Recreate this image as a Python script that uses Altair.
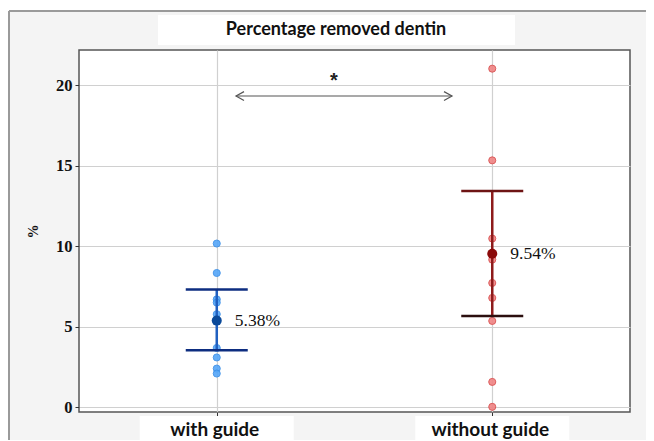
import altair as alt
import pandas as pd

groups = ["with guide", "without guide"]
with_guide = [10.17, 8.34, 6.7, 6.5, 5.78, 3.68, 3.09, 2.40, 2.09]
without_guide = [21.04, 15.34, 10.48, 9.17, 7.72, 6.79, 5.36, 1.57, 0.02]
means = [5.38, 9.54]
lower = [3.54, 5.67]
upper = [7.31, 13.43]
mean_labels = ["5.38%", "9.54%"]
arrow_y = 19.34
star_y = 20.3

# styles
pt_fill = ["#55a6f8", "#f08484"]
pt_stroke = ["#3a8fe8", "#d94c4c"]
bar_col = ["#2060c0", "#8e1b1b"]
cap_hi_col = ["#0d2d80", "#6e1414"]
cap_lo_col = ["#0d2d80", "#2b0f0f"]
mean_col = ["#0b4a9a", "#8b0a0a"]

SERIF = "Liberation Serif"
W, H = 551, 362

pts = pd.DataFrame({
    "group": [groups[0]] * len(with_guide) + [groups[1]] * len(without_guide),
    "value": with_guide + without_guide,
    "fill": [pt_fill[0]] * len(with_guide) + [pt_fill[1]] * len(without_guide),
    "stroke": [pt_stroke[0]] * len(with_guide) + [pt_stroke[1]] * len(without_guide),
})
summ = pd.DataFrame({"group": groups, "mean": means, "lo": lower, "hi": upper, "label": mean_labels,
                     "bar": bar_col, "chi": cap_hi_col, "clo": cap_lo_col, "mc": mean_col})
grp = pd.DataFrame({"group": groups})

xscale = alt.Scale(type="point", padding=0.5, domain=groups)
yscale = alt.Scale(domain=[-0.3, 22.2], nice=False, zero=False)

x_enc = alt.X("group:N", scale=xscale, sort=groups,
              axis=alt.Axis(labels=False, title=None, ticks=True, tickColor="#333", tickSize=4,
                            domain=False, grid=True, gridColor="#d0d0d0", gridWidth=1.2))
y_axis = alt.Axis(values=[0, 5, 10, 15, 20], title="%", grid=True, gridColor="#d0d0d0", gridWidth=1.2,
                  domain=False, tickColor="#333", tickSize=4, labelPadding=3,
                  labelFont=SERIF, labelFontWeight="bold", labelFontSize=16.5, labelColor="#111",
                  titleFont=SERIF, titleFontWeight="bold", titleFontSize=14, titleColor="#111",
                  titleX=-46, titleY=H / 2, titleAngle=-90, titleAlign="center", titleBaseline="middle")

points = alt.Chart(pts).mark_point(filled=True, size=50, strokeWidth=1, opacity=0.9).encode(
    x=x_enc, y=alt.Y("value:Q", scale=yscale, axis=y_axis),
    fill=alt.Fill("fill:N", scale=None), stroke=alt.Stroke("stroke:N", scale=None))

vline = alt.Chart(summ).mark_rule(strokeWidth=2.5, opacity=1).encode(
    x=alt.X("group:N", scale=xscale), y=alt.Y("lo:Q", scale=yscale), y2="hi:Q",
    color=alt.Color("bar:N", scale=None))

cap_hi = alt.Chart(summ).mark_tick(size=62, thickness=2.5, opacity=1).encode(
    x=alt.X("group:N", scale=xscale), y=alt.Y("hi:Q", scale=yscale),
    color=alt.Color("chi:N", scale=None))
cap_lo = alt.Chart(summ).mark_tick(size=62, thickness=2.5, opacity=1).encode(
    x=alt.X("group:N", scale=xscale), y=alt.Y("lo:Q", scale=yscale),
    color=alt.Color("clo:N", scale=None))

mean_pt = alt.Chart(summ).mark_point(filled=True, size=100, opacity=1).encode(
    x=alt.X("group:N", scale=xscale), y=alt.Y("mean:Q", scale=yscale),
    color=alt.Color("mc:N", scale=None))

mean_txt = alt.Chart(summ).mark_text(align="left", baseline="middle", dx=18, font=SERIF,
                                     fontSize=17.5, color="#111").encode(
    x=alt.X("group:N", scale=xscale), y=alt.Y("mean:Q", scale=yscale), text="label:N")

arrow_df = pd.DataFrame({"y": [arrow_y]})
arrow_line = alt.Chart(arrow_df).mark_rule(color="#555", strokeWidth=1.2).encode(
    x=alt.value(157), x2=alt.value(373), y=alt.Y("y:Q", scale=yscale))
head_r = alt.Chart(arrow_df).mark_point(shape="M-1,-0.55L0,0L-1,0.55", filled=False, size=256,
                                        color="#555", strokeWidth=1.2, opacity=1).encode(
    x=alt.value(373), y=alt.Y("y:Q", scale=yscale))
head_l = alt.Chart(arrow_df).mark_point(shape="M1,-0.55L0,0L1,0.55", filled=False, size=256,
                                        color="#555", strokeWidth=1.2, opacity=1).encode(
    x=alt.value(157), y=alt.Y("y:Q", scale=yscale))
star = alt.Chart(pd.DataFrame({"y": [star_y], "t": ["*"]})).mark_text(
    font="Liberation Sans", fontSize=20, fontWeight="bold", color="#222", baseline="middle").encode(
    x=alt.value(255), y=alt.Y("y:Q", scale=yscale), text="t:N")

# decorations outside plot
top_white = alt.Chart(grp).mark_rect(color="white").encode(
    x=alt.value(-71), x2=alt.value(W + 16), y=alt.value(-42), y2=alt.value(-39.5))
frame_top = alt.Chart(grp).mark_rule(color="#9a9a9a", strokeWidth=2).encode(
    x=alt.value(-70), x2=alt.value(W + 16), y=alt.value(-39))
frame_left = alt.Chart(grp).mark_rule(color="#9a9a9a", strokeWidth=2).encode(
    x=alt.value(-70), y=alt.value(-39), y2=alt.value(H + 40))

title_box = alt.Chart(grp).mark_rect(color="white").encode(
    x=alt.value(79), x2=alt.value(436), y=alt.value(-35), y2=alt.value(-5))
title_txt = alt.Chart(pd.DataFrame({"t": ["Percentage removed dentin"]})).mark_text(
    font="Lato", fontSize=18, fontWeight="bold", color="#111", baseline="middle").encode(
    x=alt.value(257), y=alt.value(-20), text="t:N")

lab_box = alt.Chart(grp).mark_bar(size=154, color="white").encode(
    x=alt.X("group:N", scale=xscale), y=alt.value(366), y2=alt.value(395))
lab_txt = alt.Chart(grp).mark_text(font="Lato", fontSize=19, fontWeight="bold", color="#111",
                                   baseline="middle", dx=-2).encode(
    x=alt.X("group:N", scale=xscale), y=alt.value(380), text="group:N")

chart = alt.layer(
    top_white, frame_top, frame_left, title_box, title_txt, lab_box, lab_txt,
    points, vline, cap_hi, cap_lo, mean_pt, mean_txt, arrow_line, head_l, head_r, star,
).properties(
    width=W, height=H,
    padding={"left": 71, "top": 42, "right": 16, "bottom": 28},
    autosize=alt.AutoSizeParams(type="none"),
    background="#f4f4f4",
).configure_view(fill="white", stroke="#555", strokeWidth=1.5)

chart.save("out.html", embed_options={"renderer": "svg", "actions": False})
